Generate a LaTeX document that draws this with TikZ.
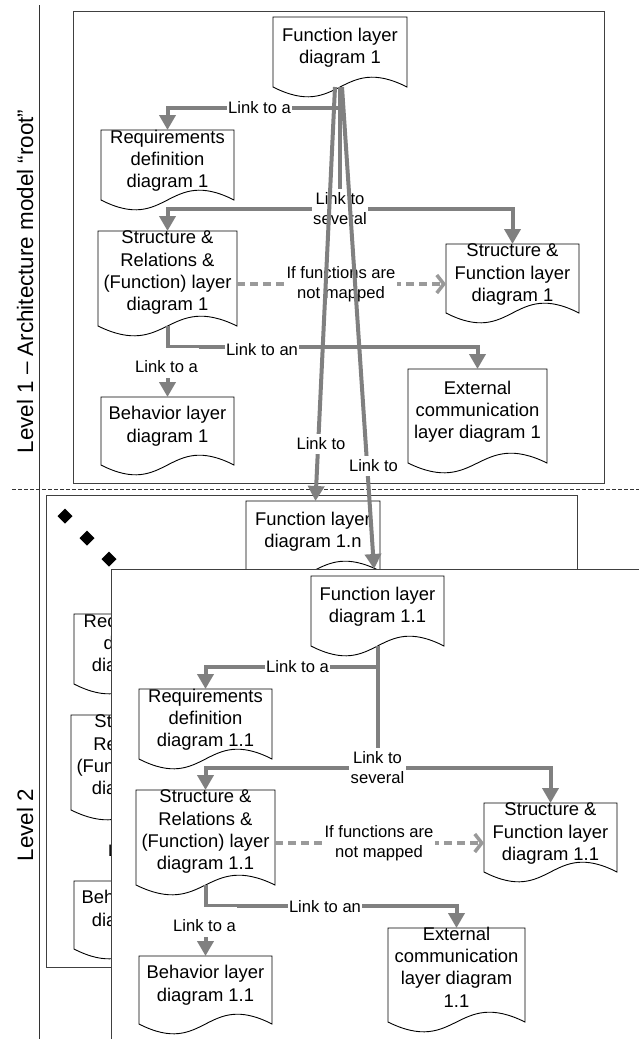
\documentclass[tikz,border=0pt]{standalone}
\usepackage{fontspec}
\setmainfont{Liberation Sans}
\usetikzlibrary{arrows.meta,calc}

\definecolor{linkgray}{HTML}{808080}
\definecolor{dashgray}{HTML}{9A9A9A}
\definecolor{framegray}{HTML}{404040}

\newcommand{\docfnt}{\fontsize{18.4}{22.4}\selectfont}
\newcommand{\lblfnt}{\fontsize{16.6}{19.5}\selectfont}
\newcommand{\lvlfnt}{\fontsize{22.4}{26}\selectfont}

\tikzset{
  docline/.style={draw=black, line width=0.9pt, fill=white},
  docbox/.style={inner sep=0pt, outer sep=0pt},
  doctext/.style={inner sep=0pt, align=center, font=\docfnt},
  lbl/.style={fill=white, inner xsep=1.5pt, inner ysep=4pt, align=center, font=\lblfnt},
  link/.style={draw=linkgray, line width=4pt},
  arr/.style={link, -{Triangle[width=16pt,length=15pt]}},
  maybe/.style={draw=dashgray, line width=3.5pt, dash pattern=on 8pt off 5pt,
                -{Straight Barb[width=18pt,length=7pt]}},
  panel/.style={draw=framegray, line width=0.9pt},
  lvl/.style={rotate=90, anchor=base, font=\lvlfnt},
}

% document symbol: name, left, top, right, side bottom, text centre y, text
\newcommand{\docnode}[7]{%
  \filldraw[docline] (#2,#5) -- (#2,#3) -- (#4,#3) -- (#4,#5)
    .. controls ({(#2+#4)/2},{#5-34}) and ({(#2+#4)/2},{#5+34}) .. (#2,#5) -- cycle;
  \node[docbox, minimum width={(#4-#2)*1pt}, minimum height={(#5-#3)*1pt}]
    (#1) at ({(#2+#4)/2},{(#3+#5)/2}) {};
  \node[doctext] (#1-txt) at ({(#2+#4)/2},#6) {#7};
}

\begin{document}
\begin{tikzpicture}[x=1pt,y=-1pt]
\useasboundingbox (0,0) rectangle (639,1039);
\begin{scope}
\clip (0,0) rectangle (639,1039);
\fill[white] (0,0) rectangle (639,1039);

% level separators and titles
\draw[black!80, line width=0.8pt] (39,5) -- (39,1039);
\draw[black!80, line width=0.7pt, dash pattern=on 4pt off 2pt] (12,489) -- (639,489);
\node[lvl] (lvl1) at (33,281.5) {Level 1 – Architecture model “root”};
\node[lvl] (lvl2) at (33,825) {Level 2};

% ---------------- level 1 ----------------
\draw[panel] (73,11) rectangle (604,483);
\docnode{F1}{273}{17}{407}{87}{47.5}{Function layer\\diagram 1}
\docnode{Req1}{101}{130}{234}{200}{160.75}{Requirements\\definition\\diagram 1}
\docnode{SR1}{98}{231}{237}{326}{272.75}{Structure \&\\Relations \&\\(Function) layer\\diagram 1}
\docnode{SF1}{446}{244}{579}{313}{274.75}{Structure \&\\Function layer\\diagram 1}
\docnode{Beh1}{101}{397}{234}{465}{426.25}{Behavior layer\\diagram 1}
\docnode{Ext1}{408}{369}{547}{463}{411.75}{External\\communication\\layer diagram 1}

\coordinate (j1a) at (340,108);
\coordinate (j1b) at (340,209);
\coordinate (j1c) at (167.5,347);
\draw[link] (F1.south) -- (j1b);
\draw[arr] (j1a) -| (Req1.north);
\draw[arr] (j1b) -| (SR1.north);
\draw[arr] (j1b) -| (SF1.north);
\draw[maybe] ([yshift=-5.5pt]SR1.east) -- ([yshift=-5.5pt]SF1.west);
\draw[arr] (SR1.south) -- (Beh1.north);
\draw[arr] (j1c) -| (Ext1.north);

\node[lbl] (l1a) at (259.5,108) {Link to a};
\node[lbl] (l1b) at (340,208.5) {Link to\\several};
\node[lbl, inner ysep=2pt] (l1c) at (341,284) {If functions are\\not mapped};
\node[lbl] (l1d) at (262,350) {Link to an};
\node[lbl, text height=20pt, text depth=2pt, anchor=base] (l1e) at (166.5,372) {Link to a};

% ---------------- level 2, further diagrams 1.n (mostly hidden) ----------------
\draw[panel] (46,495) rectangle (577,967);
\foreach \px/\py in {65/516, 87/538, 109/559}
  \fill[black] ({\px},{\py-7.5}) -- ({\px+7.5},{\py}) -- ({\px},{\py+7.5}) -- ({\px-7.5},{\py}) -- cycle;
\docnode{F1n}{246}{501}{380}{571}{531.5}{Function layer\\diagram 1.n}
\docnode{Req1n}{74}{614}{207}{684}{644.75}{Rec\phantom{uirements}\\d\phantom{efinition}\\dia\phantom{gram 1.n}}
\docnode{SR1n}{71}{715}{210}{810}{756.75}{St\phantom{ructure \&}\\Re\phantom{lations \&}\\(Fun\phantom{ction) layer}\\dia\phantom{gram 1.n}}
\docnode{Beh1n}{74}{881}{207}{949}{910.25}{Beh\phantom{avior layer}\\dia\phantom{gram 1.n}}
\node[lbl, text height=20pt, text depth=2pt, anchor=base] (l1ne) at (139.5,856) {L\phantom{ink to a}};

% ---------------- level 2, diagram 1.1 ----------------
\filldraw[panel, fill=white] (111,569) rectangle (660,1060);
\docnode{F11}{311}{576}{444}{646}{606.5}{Function layer\\diagram 1.1}
\docnode{Req11}{139}{689}{272}{759}{719.75}{Requirements\\definition\\diagram 1.1}
\docnode{SR11}{136}{790}{275}{885}{831.75}{Structure \&\\Relations \&\\(Function) layer\\diagram 1.1}
\docnode{SF11}{484}{803}{617}{872}{833.75}{Structure \&\\Function layer\\diagram 1.1}
\docnode{Beh11}{139}{956}{272}{1024}{985.25}{Behavior layer\\diagram 1.1}
\docnode{Ext11}{388}{928}{525}{1022}{967}{External\\communication\\layer diagram\\1.1}

\coordinate (j2a) at (377.5,667);
\coordinate (j2b) at (377.5,768);
\coordinate (j2c) at (205.5,906);
\draw[link] (F11.south) -- (j2b);
\draw[arr] (j2a) -| (Req11.north);
\draw[arr] (j2b) -| (SR11.north);
\draw[arr] (j2b) -| (SF11.north);
\draw[maybe] ([yshift=-5.5pt]SR11.east) -- ([yshift=-5.5pt]SF11.west);
\draw[arr] (SR11.south) -- (Beh11.north);
\draw[arr] (j2c) -| (Ext11.north);

\node[lbl] (l2a) at (297.5,667) {Link to a};
\node[lbl] (l2b) at (377.5,767.5) {Link to\\several};
\node[lbl, inner ysep=2pt] (l2c) at (379,843) {If functions are\\not mapped};
\node[lbl] (l2d) at (325,907) {Link to an};
\node[lbl, text height=20pt, text depth=2pt, anchor=base] (l2e) at (204.5,931) {Link to a};

% ---------------- links from level 1 down to level 2 ----------------
\draw[arr] ([xshift=-5pt]F1.south) -- ([xshift=2.5pt]F1n.north);
\draw[arr, shorten >=7pt] ([xshift=2pt]F1.south) -- ([xshift=-3pt]F11.north);
\node[lbl] (l1f) at (321,444) {Link to};
\node[lbl] (l1g) at (373.5,466) {Link to};
\end{scope}
\end{tikzpicture}
\end{document}
